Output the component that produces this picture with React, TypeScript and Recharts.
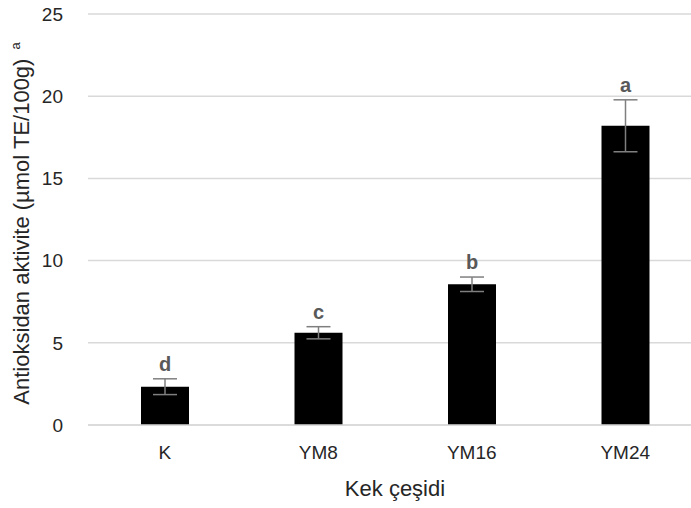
import React from 'react';
import { BarChart, Bar, XAxis, YAxis, CartesianGrid, ErrorBar, LabelList } from 'recharts';

const categories = ['K', 'YM8', 'YM16', 'YM24'];
const values = [2.33, 5.61, 8.56, 18.2];
const errors = [0.48, 0.37, 0.44, 1.58];
const letters = ['d', 'c', 'b', 'a'];
const yTicks = [0, 5, 10, 15, 20, 25];

const data = categories.map((c, i) => ({ name: c, value: values[i], err: errors[i], letter: letters[i] }));

const FONT = 'Liberation Sans, Arial, sans-serif';

const LetterLabel = (props: any) => {
  const { x, y, width, height, index } = props;
  const v = values[index];
  const ppu = height / v;
  const ly = y - errors[index] * ppu - 8;
  return (
    <text x={x + width / 2} y={ly} textAnchor="middle" fontFamily={FONT} fontSize={20} fontWeight="bold" fill="#595959">
      {letters[index]}
    </text>
  );
};

const YTitle = (props: any) => {
  const vb = props.viewBox || {};
  const cy = vb.y + vb.height / 2 + 4;
  const cx = 28.5;
  return (
    <text x={cx} y={cy} transform={`rotate(-90, ${cx}, ${cy})`} textAnchor="middle" fontFamily={FONT} fontSize={22} fill="#262626">
      Antioksidan aktivite (µmol TE/100g)
      <tspan fontSize={13} dy={-9} dx={9}>a</tspan>
    </text>
  );
};

export default function App() {
  return (
    <div style={{ position: 'absolute', left: 0, top: 0, width: 691, height: 508, overflow: 'hidden', background: '#fff' }}>
      <BarChart width={720} height={508} data={data} margin={{ top: 14, right: 18, left: 0, bottom: 0 }}>
        <CartesianGrid vertical={false} stroke="#d9d9d9" strokeWidth={1.5} />
        <XAxis
          dataKey="name"
          height={83}
          axisLine={{ stroke: '#d9d9d9', strokeWidth: 1.5 }}
          tickLine={false}
          tickSize={0}
          tickMargin={21}
          tick={{ fontFamily: FONT, fontSize: 19, fill: '#262626' }}
          label={{ value: 'Kek çeşidi', position: 'insideBottom', offset: 12, fontFamily: FONT, fontSize: 22, fill: '#262626' }}
        />
        <YAxis
          width={88}
          domain={[0, 25]}
          ticks={yTicks}
          axisLine={false}
          tickLine={false}
          tickSize={0}
          tickMargin={25}
          tick={{ fontFamily: FONT, fontSize: 19, fill: '#262626' }}
          label={<YTitle />}
        />
        <Bar dataKey="value" fill="#000000" barSize={48} isAnimationActive={false}>
          <ErrorBar dataKey="err" width={12} strokeWidth={1.5} stroke="#7f7f7f" direction="y" />
          <LabelList dataKey="letter" content={<LetterLabel />} />
        </Bar>
      </BarChart>
    </div>
  );
}
